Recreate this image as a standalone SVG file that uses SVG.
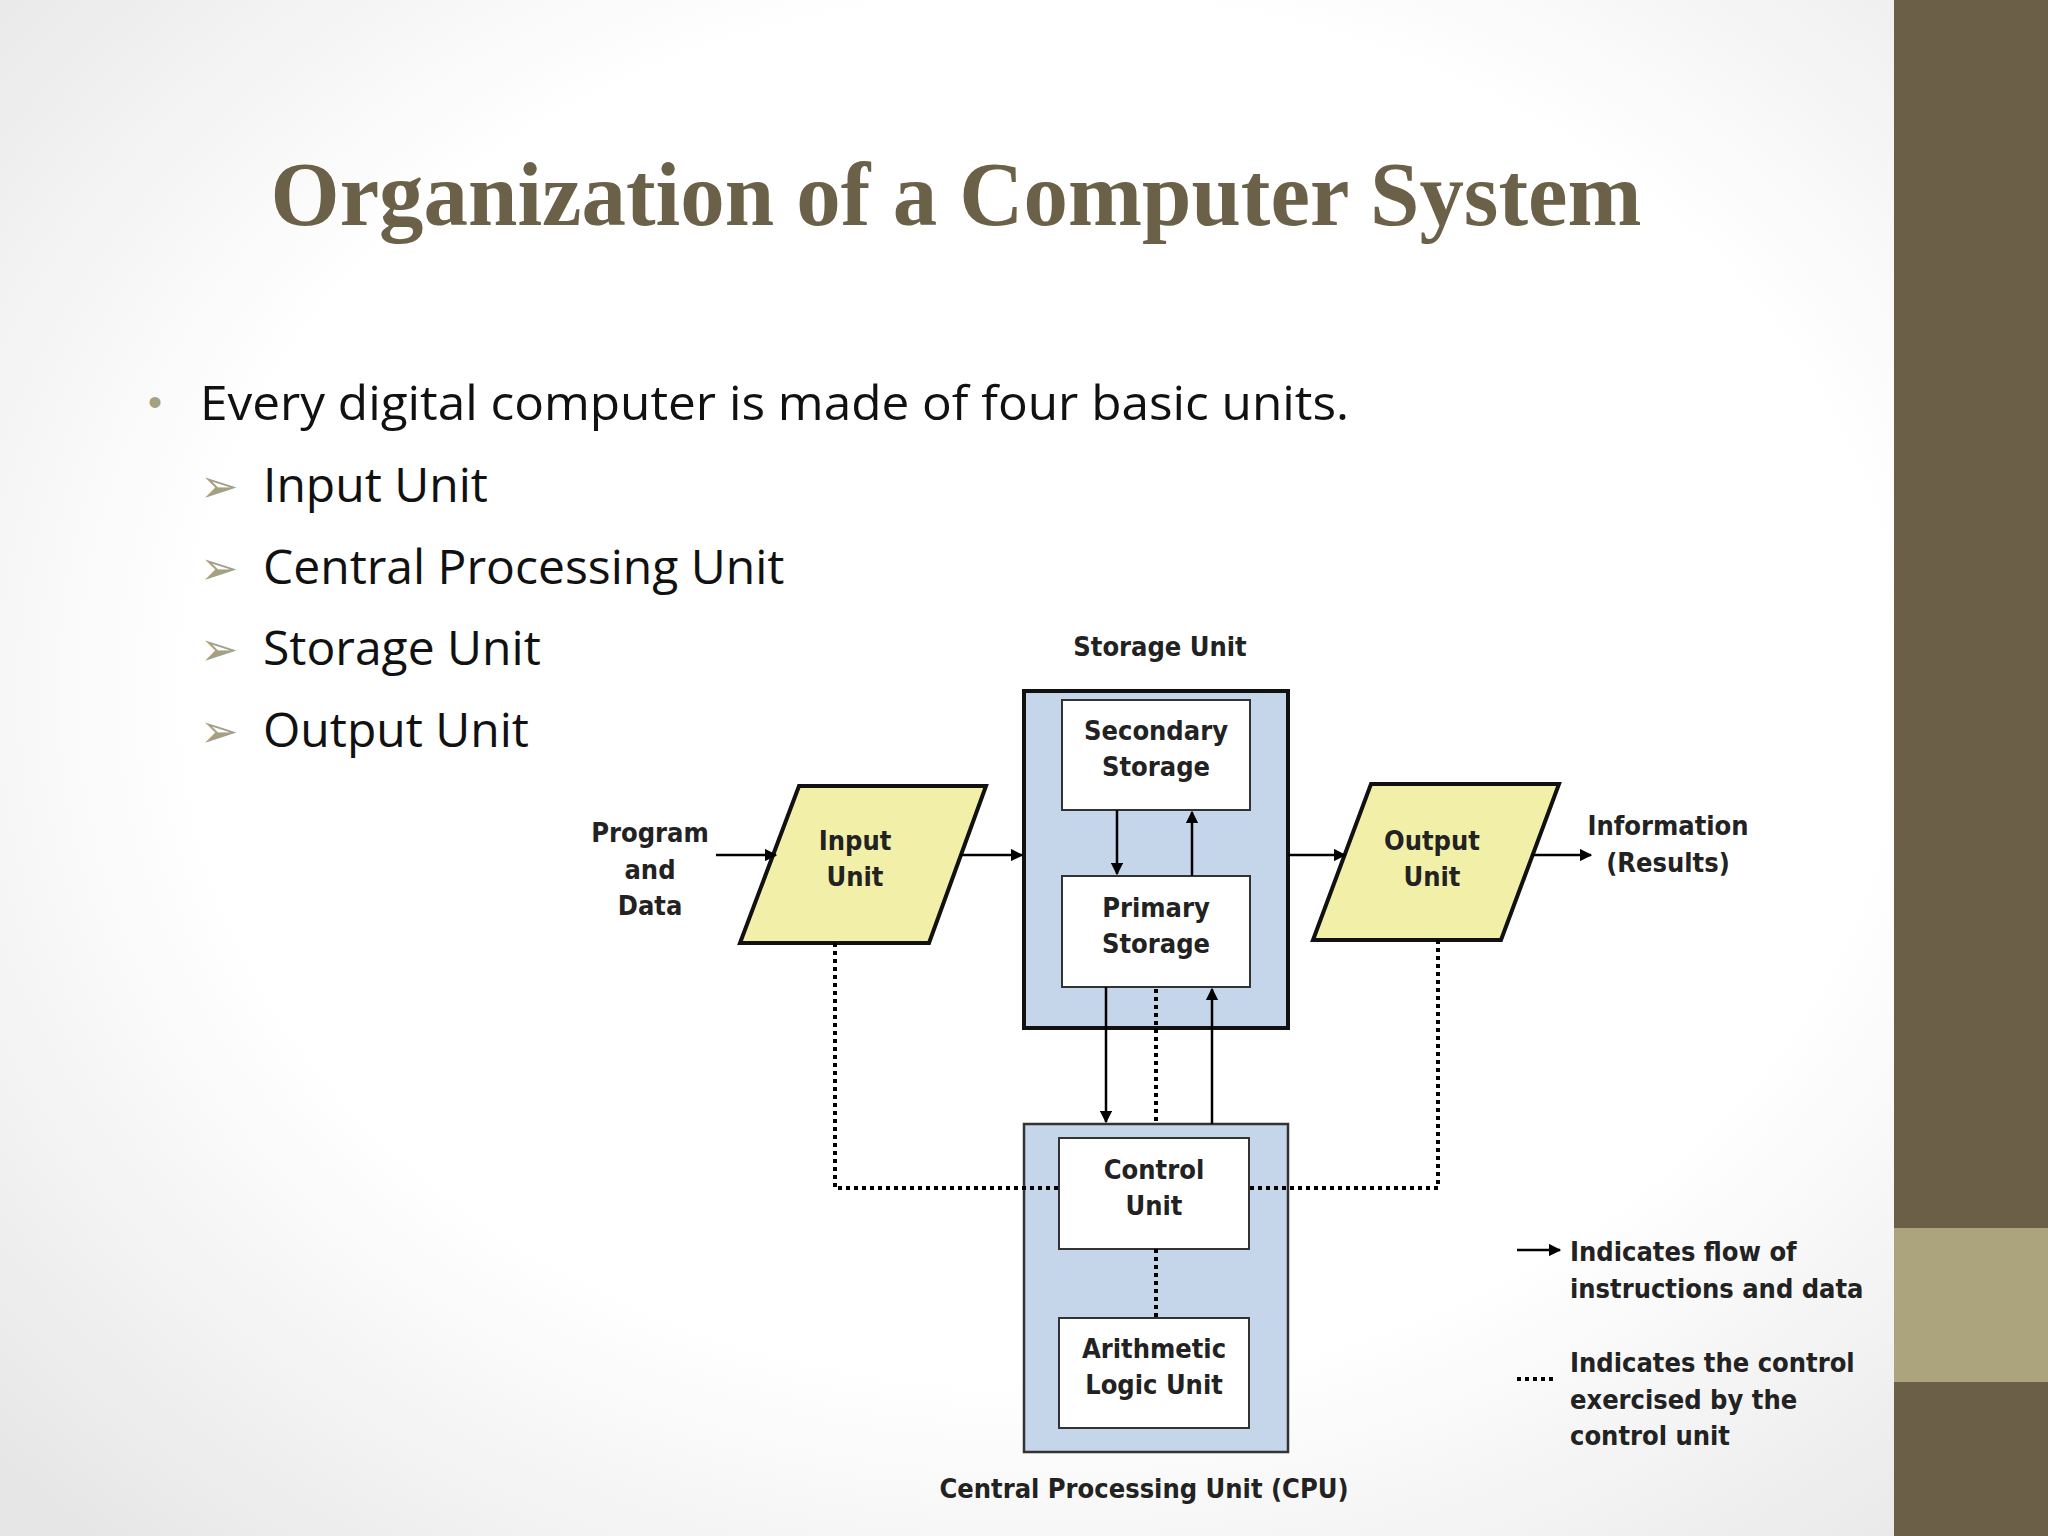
<svg xmlns="http://www.w3.org/2000/svg" width="2048" height="1536" viewBox="0 0 2048 1536">
<defs>
<radialGradient id="bg" cx="0.55" cy="0.45" r="0.75">
<stop offset="0.6" stop-color="#ffffff"/><stop offset="1" stop-color="#e6e6e6"/>
</radialGradient>
<marker id="ah" viewBox="0 0 10 10" refX="9" refY="5" markerWidth="5" markerHeight="5" orient="auto"><path d="M0,0 L10,5 L0,10 z" fill="#000"/></marker>
<style>
.d{font-family:"DejaVu Sans Condensed","DejaVu Sans",sans-serif;font-weight:bold;font-size:27px;fill:#222;text-anchor:middle}
.l{font-family:"DejaVu Sans Condensed","DejaVu Sans",sans-serif;font-weight:bold;font-size:27px;fill:#222}
.b{font-family:"Open Sans","Liberation Sans",sans-serif;font-size:48px;fill:#111}
.ar{stroke:#000;stroke-width:2.5;fill:none;marker-end:url(#ah)}
.dt{stroke:#000;stroke-width:4;fill:none;stroke-dasharray:4 4}
.box{fill:#fff;stroke:#333;stroke-width:2}
</style>
</defs>
<rect width="1894" height="1536" fill="url(#bg)"/>
<rect x="1894" y="0" width="154" height="1536" fill="#6b5f48"/>
<rect x="1894" y="1228" width="154" height="154" fill="#aba47c"/>
<text x="956" y="225" text-anchor="middle" font-family="Liberation Serif,serif" font-weight="bold" font-size="90" fill="#6b6148" textLength="1371" lengthAdjust="spacingAndGlyphs">Organization of a Computer System</text>
<text x="148" y="416" font-family="Liberation Sans,sans-serif" font-size="40" fill="#a6a083">•</text>
<text class="b" x="200" y="420" textLength="1149" lengthAdjust="spacingAndGlyphs">Every digital computer is made of four basic units.</text>
<g font-family="DejaVu Sans,sans-serif" font-size="46" fill="#a6a083">
<text x="200" y="502">➢</text><text x="200" y="584">➢</text><text x="200" y="665">➢</text><text x="200" y="747">➢</text></g>
<text class="b" x="263" y="502">Input Unit</text>
<text class="b" x="263" y="584">Central Processing Unit</text>
<text class="b" x="263" y="665">Storage Unit</text>
<text class="b" x="263" y="747">Output Unit</text>
<g id="storage"><rect x="1024" y="691" width="264" height="337" fill="#c5d5ea" stroke="#111" stroke-width="4"/><text class="d" x="1160" y="656">Storage Unit</text></g>
<g id="secondary"><rect class="box" x="1062" y="700" width="188" height="110"/><text class="d" x="1156" y="740">Secondary</text><text class="d" x="1156" y="776">Storage</text></g>
<g id="primary"><rect class="box" x="1062" y="876" width="188" height="111"/><text class="d" x="1156" y="917">Primary</text><text class="d" x="1156" y="953">Storage</text></g>
<g id="cpu"><rect x="1024" y="1124" width="264" height="328" fill="#c5d5ea" stroke="#333" stroke-width="2.5"/><text class="d" x="1144" y="1498">Central Processing Unit (CPU)</text></g>
<g id="control"><rect class="box" x="1059" y="1138" width="190" height="111"/><text class="d" x="1154" y="1179">Control</text><text class="d" x="1154" y="1215">Unit</text></g>
<g id="alu"><rect class="box" x="1059" y="1318" width="190" height="110"/><text class="d" x="1154" y="1358">Arithmetic</text><text class="d" x="1154" y="1394">Logic Unit</text></g>
<g id="input"><polygon points="799,786 986,786 929,943 740,943" fill="#f2efa8" stroke="#111" stroke-width="4"/><text class="d" x="855" y="850">Input</text><text class="d" x="855" y="886">Unit</text></g>
<g id="output"><polygon points="1371,784 1559,784 1501,940 1313,940" fill="#f2efa8" stroke="#111" stroke-width="4"/><text class="d" x="1432" y="850">Output</text><text class="d" x="1432" y="886">Unit</text></g>
<g id="program"><text class="d" x="650" y="842">Program</text><text class="d" x="650" y="879">and</text><text class="d" x="650" y="915">Data</text></g>
<g id="info"><text class="d" x="1668" y="835">Information</text><text class="d" x="1668" y="872">(Results)</text></g>
<g id="connectors">
<line class="ar" x1="716" y1="855" x2="776" y2="855"/>
<line class="ar" x1="960" y1="855" x2="1022" y2="855"/>
<line class="ar" x1="1288" y1="855" x2="1345" y2="855"/>
<line class="ar" x1="1531" y1="855" x2="1591" y2="855"/>
<line class="ar" x1="1117" y1="810" x2="1117" y2="874"/>
<line class="ar" x1="1192" y1="876" x2="1192" y2="812"/>
<line class="ar" x1="1106" y1="987" x2="1106" y2="1122"/>
<line class="ar" x1="1212" y1="1124" x2="1212" y2="989"/>
<line class="dt" x1="1156" y1="989" x2="1156" y2="1124"/>
<line class="dt" x1="1156" y1="1249" x2="1156" y2="1318"/>
<polyline class="dt" points="835,943 835,1188 1059,1188"/>
<polyline class="dt" points="1438,940 1438,1188 1249,1188"/>
</g>
<g id="legend">
<line class="ar" x1="1517" y1="1250" x2="1560" y2="1250"/>
<text class="l" x="1570" y="1261">Indicates flow of</text><text class="l" x="1570" y="1298">instructions and data</text>
<line class="dt" x1="1517" y1="1379" x2="1557" y2="1379"/>
<text class="l" x="1570" y="1372">Indicates the control</text><text class="l" x="1570" y="1409">exercised by the</text><text class="l" x="1570" y="1445">control unit</text>
</g>
</svg>
